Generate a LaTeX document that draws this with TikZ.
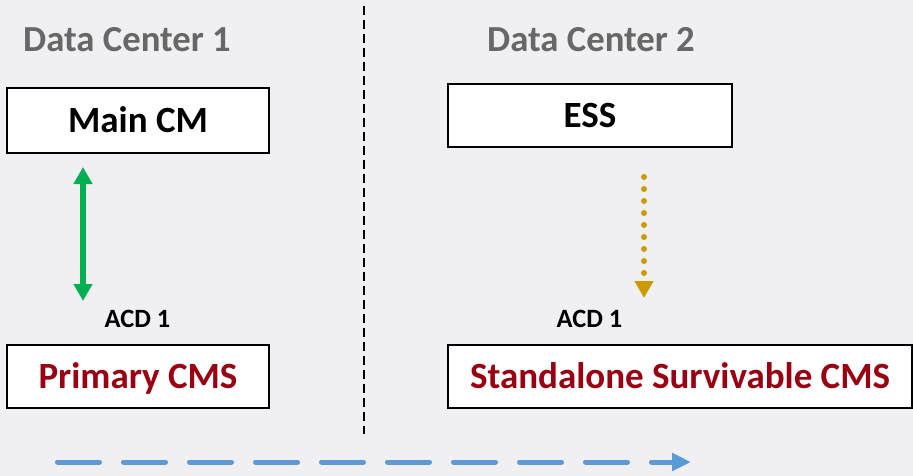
\documentclass[tikz,border=0pt]{standalone}
\usepackage{fontspec}
\setmainfont{Carlito}
\usetikzlibrary{arrows.meta}
\definecolor{bg}{HTML}{F0F0F2}
\definecolor{titlegray}{HTML}{676767}
\definecolor{darkred}{HTML}{990012}
\definecolor{okgreen}{HTML}{00B050}
\definecolor{gold}{HTML}{CC9A00}
\definecolor{flowblue}{HTML}{5B9BD5}
\tikzset{
  boxnode/.style={draw=black, line width=2pt, fill=white, inner sep=0pt,
    font=\fontsize{37}{41}\selectfont\bfseries, text height=23.5pt, text depth=0pt},
  titlenode/.style={inner sep=0pt, text=titlegray, font=\fontsize{36.7}{40}\selectfont\bfseries},
  acdnode/.style={inner sep=0pt, font=\fontsize{26.4}{30}\selectfont\bfseries},
}
\begin{document}
\begin{tikzpicture}[x=1pt,y=-1pt]
\path[fill=bg, use as bounding box] (0,0) rectangle (913,476);
% divider
\coordinate (d1) at (364,6);
\coordinate (d2) at (364,434);
\draw[line width=2pt, dash pattern=on 9pt off 5pt] (d1) -- (d2);
% titles
\node[titlenode] (t1) at (127,40) {Data Center 1};
\node[titlenode] (t2) at (591,40) {Data Center 2};
% boxes
\node[boxnode, minimum width=262pt, minimum height=65pt] (main) at (138,120.5) {Main CM};
\node[boxnode, minimum width=284pt, minimum height=63pt] (ess) at (590,115.5) {ESS};
\node[boxnode, minimum width=262pt, minimum height=63pt, text=darkred] (prim) at (138,376.5) {Primary CMS};
\node[boxnode, minimum width=464pt, minimum height=63pt, text=darkred] (ssc) at (680,376.5) {Standalone Survivable CMS};
% labels
\node[acdnode] (acd1) at (137.5,319) {ACD 1};
\node[acdnode] (acd2) at (589.5,319) {ACD 1};
% green double arrow
\coordinate (g1) at (83,167);
\coordinate (g2) at (83,301);
\draw[okgreen, line width=6pt, {Triangle[width=18pt,length=17pt]}-{Triangle[width=18pt,length=17pt]}] (g1) -- (g2);
% gold dotted arrow
\coordinate (y1) at (644,177);
\coordinate (y2) at (644,298);
\draw[gold, line width=6pt, line cap=round, dash pattern=on 0pt off 12pt, -{Triangle[width=18pt,length=17pt]}] (y1) -- (y2);
% blue dashed arrow
\coordinate (b1) at (57.5,462);
\coordinate (b2) at (691,462);
\draw[flowblue, line width=5pt, line cap=round, dash pattern=on 42pt off 24pt, -{Triangle[width=17pt,length=19pt]}] (b1) -- (b2);
\end{tikzpicture}
\end{document}
